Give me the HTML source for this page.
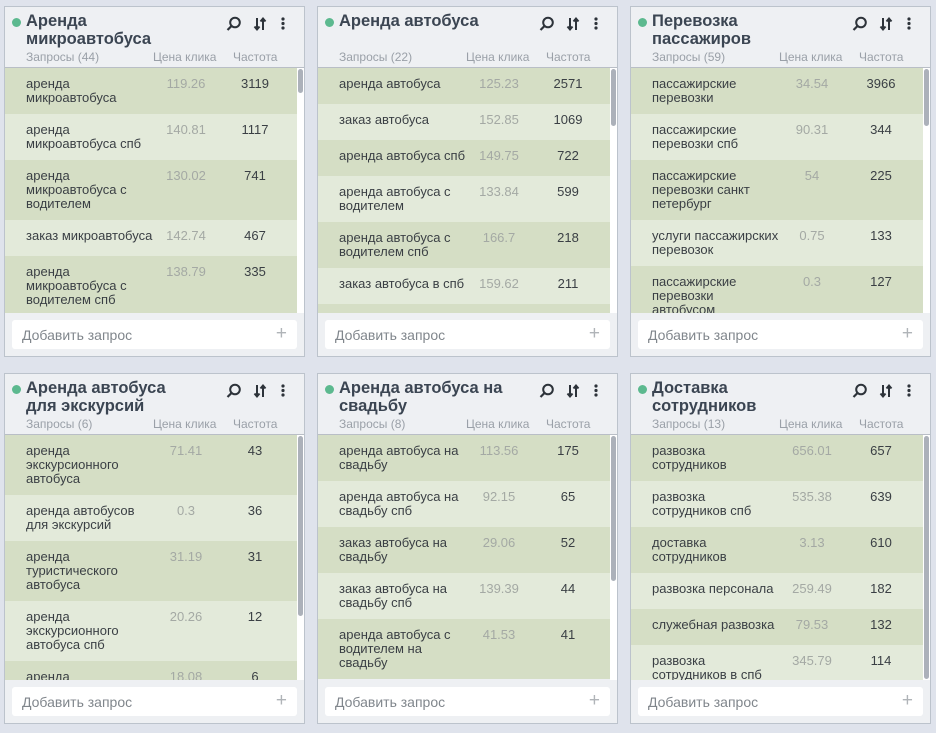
<!DOCTYPE html>
<html><head><meta charset="utf-8">
<style>
*{box-sizing:border-box;margin:0;padding:0}
body{width:936px;height:733px;background:#dfe3ec;font-family:"Liberation Sans","DejaVu Sans",sans-serif;position:relative;overflow:hidden}
.card{position:absolute;width:301px;height:351px;background:#eef0f3;border:1px solid #bcc3cc}
.hd{position:absolute;left:0;top:0;width:100%;height:61px;border-bottom:1px solid #b9bec6}
.dot{position:absolute;left:7px;top:11px;width:9px;height:9px;border-radius:50%;background:#5cb98f}
.ttl{position:absolute;left:21px;top:5px;font-size:16.5px;font-weight:bold;color:#3b4552;line-height:18px}
.ic{position:absolute;top:9px}
.sub{position:absolute;top:43px;font-size:12px;color:#9aa0a8}
.list{position:absolute;left:0;top:61px;width:292px;height:245px;overflow:hidden}
.track{position:absolute;right:0;top:61px;width:7px;height:245px;background:#fff}
.thumb{position:absolute;left:1px;width:5px;border-radius:3px;background:#acb1ba}
.row{position:relative;padding:9px 0 9px 21px;min-height:36px;font-size:13px;line-height:14px;color:#3a3f44}
.row:nth-child(odd){background:#d5dec5}
.row:nth-child(even){background:#e3eada}
.row .p{position:absolute;left:145px;width:72px;top:9px;text-align:center;color:#a4a9a4}
.row .f{position:absolute;left:220px;width:60px;top:9px;text-align:center}
.ft{position:absolute;left:7px;top:313px;width:285px;height:29px;background:#fff;border-radius:3px;font-size:14px;color:#80868c;padding:7px 0 0 10px}
.ft span{position:absolute;right:10px;top:3px;font-size:19px;color:#b0b4b8}
</style></head><body>

<div class="card" style="left:4px;top:6px">
 <div class="hd"><div class="dot"></div><div class="ttl">Аренда<br>микроавтобуса</div>
 <svg class="ic" style="left:221px" width="16" height="16" viewBox="0 0 16 16"><circle cx="9" cy="6.5" r="4.8" fill="none" stroke="#2d333a" stroke-width="2"/><line x1="5.5" y1="10" x2="1.5" y2="14" stroke="#2d333a" stroke-width="2.2"/></svg>
 <svg class="ic" style="left:248px" width="14" height="16" viewBox="0 0 14 16"><path d="M4 2v11M1.5 10.5L4 13.5l2.5-3M10 14V3M7.5 5.5L10 2.5l2.5 3" stroke="#2d333a" stroke-width="2" fill="none"/></svg>
 <svg class="ic" style="left:275px" width="6" height="16" viewBox="0 0 6 16"><circle cx="3" cy="3" r="1.6" fill="#2d333a"/><circle cx="3" cy="7.5" r="1.6" fill="#2d333a"/><circle cx="3" cy="12" r="1.6" fill="#2d333a"/></svg>
 <div class="sub" style="left:21px">Запросы (44)</div><div class="sub" style="left:148px">Цена клика</div><div class="sub" style="left:228px">Частота</div></div>
 <div class="list">
  <div class="row">аренда<br>микроавтобуса<span class="p">119.26</span><span class="f">3119</span></div>
  <div class="row">аренда<br>микроавтобуса спб<span class="p">140.81</span><span class="f">1117</span></div>
  <div class="row">аренда<br>микроавтобуса с<br>водителем<span class="p">130.02</span><span class="f">741</span></div>
  <div class="row">заказ микроавтобуса<span class="p">142.74</span><span class="f">467</span></div>
  <div class="row">аренда<br>микроавтобуса с<br>водителем спб<span class="p">138.79</span><span class="f">335</span></div>
 </div>
 <div class="track"><div class="thumb" style="top:1px;height:24px"></div></div>
 <div class="ft">Добавить запрос<span>+</span></div>
</div>

<div class="card" style="left:317px;top:6px">
 <div class="hd"><div class="dot"></div><div class="ttl">Аренда автобуса</div>
 <svg class="ic" style="left:221px" width="16" height="16" viewBox="0 0 16 16"><circle cx="9" cy="6.5" r="4.8" fill="none" stroke="#2d333a" stroke-width="2"/><line x1="5.5" y1="10" x2="1.5" y2="14" stroke="#2d333a" stroke-width="2.2"/></svg>
 <svg class="ic" style="left:248px" width="14" height="16" viewBox="0 0 14 16"><path d="M4 2v11M1.5 10.5L4 13.5l2.5-3M10 14V3M7.5 5.5L10 2.5l2.5 3" stroke="#2d333a" stroke-width="2" fill="none"/></svg>
 <svg class="ic" style="left:275px" width="6" height="16" viewBox="0 0 6 16"><circle cx="3" cy="3" r="1.6" fill="#2d333a"/><circle cx="3" cy="7.5" r="1.6" fill="#2d333a"/><circle cx="3" cy="12" r="1.6" fill="#2d333a"/></svg>
 <div class="sub" style="left:21px">Запросы (22)</div><div class="sub" style="left:148px">Цена клика</div><div class="sub" style="left:228px">Частота</div></div>
 <div class="list">
  <div class="row">аренда автобуса<span class="p">125.23</span><span class="f">2571</span></div>
  <div class="row">заказ автобуса<span class="p">152.85</span><span class="f">1069</span></div>
  <div class="row">аренда автобуса спб<span class="p">149.75</span><span class="f">722</span></div>
  <div class="row">аренда автобуса с<br>водителем<span class="p">133.84</span><span class="f">599</span></div>
  <div class="row">аренда автобуса с<br>водителем спб<span class="p">166.7</span><span class="f">218</span></div>
  <div class="row">заказ автобуса в спб<span class="p">159.62</span><span class="f">211</span></div>
  <div class="row">аренда<br>автобуса<span class="p"></span><span class="f"></span></div>
 </div>
 <div class="track"><div class="thumb" style="top:1px;height:57px"></div></div>
 <div class="ft">Добавить запрос<span>+</span></div>
</div>

<div class="card" style="left:630px;top:6px">
 <div class="hd"><div class="dot"></div><div class="ttl">Перевозка<br>пассажиров</div>
 <svg class="ic" style="left:221px" width="16" height="16" viewBox="0 0 16 16"><circle cx="9" cy="6.5" r="4.8" fill="none" stroke="#2d333a" stroke-width="2"/><line x1="5.5" y1="10" x2="1.5" y2="14" stroke="#2d333a" stroke-width="2.2"/></svg>
 <svg class="ic" style="left:248px" width="14" height="16" viewBox="0 0 14 16"><path d="M4 2v11M1.5 10.5L4 13.5l2.5-3M10 14V3M7.5 5.5L10 2.5l2.5 3" stroke="#2d333a" stroke-width="2" fill="none"/></svg>
 <svg class="ic" style="left:275px" width="6" height="16" viewBox="0 0 6 16"><circle cx="3" cy="3" r="1.6" fill="#2d333a"/><circle cx="3" cy="7.5" r="1.6" fill="#2d333a"/><circle cx="3" cy="12" r="1.6" fill="#2d333a"/></svg>
 <div class="sub" style="left:21px">Запросы (59)</div><div class="sub" style="left:148px">Цена клика</div><div class="sub" style="left:228px">Частота</div></div>
 <div class="list">
  <div class="row">пассажирские<br>перевозки<span class="p">34.54</span><span class="f">3966</span></div>
  <div class="row">пассажирские<br>перевозки спб<span class="p">90.31</span><span class="f">344</span></div>
  <div class="row">пассажирские<br>перевозки санкт<br>петербург<span class="p">54</span><span class="f">225</span></div>
  <div class="row">услуги пассажирских<br>перевозок<span class="p">0.75</span><span class="f">133</span></div>
  <div class="row">пассажирские<br>перевозки<br>автобусом<span class="p">0.3</span><span class="f">127</span></div>
 </div>
 <div class="track"><div class="thumb" style="top:1px;height:57px"></div></div>
 <div class="ft">Добавить запрос<span>+</span></div>
</div>

<div class="card" style="left:4px;top:373px">
 <div class="hd"><div class="dot"></div><div class="ttl">Аренда автобуса<br>для экскурсий</div>
 <svg class="ic" style="left:221px" width="16" height="16" viewBox="0 0 16 16"><circle cx="9" cy="6.5" r="4.8" fill="none" stroke="#2d333a" stroke-width="2"/><line x1="5.5" y1="10" x2="1.5" y2="14" stroke="#2d333a" stroke-width="2.2"/></svg>
 <svg class="ic" style="left:248px" width="14" height="16" viewBox="0 0 14 16"><path d="M4 2v11M1.5 10.5L4 13.5l2.5-3M10 14V3M7.5 5.5L10 2.5l2.5 3" stroke="#2d333a" stroke-width="2" fill="none"/></svg>
 <svg class="ic" style="left:275px" width="6" height="16" viewBox="0 0 6 16"><circle cx="3" cy="3" r="1.6" fill="#2d333a"/><circle cx="3" cy="7.5" r="1.6" fill="#2d333a"/><circle cx="3" cy="12" r="1.6" fill="#2d333a"/></svg>
 <div class="sub" style="left:21px">Запросы (6)</div><div class="sub" style="left:148px">Цена клика</div><div class="sub" style="left:228px">Частота</div></div>
 <div class="list">
  <div class="row">аренда<br>экскурсионного<br>автобуса<span class="p">71.41</span><span class="f">43</span></div>
  <div class="row">аренда автобусов<br>для экскурсий<span class="p">0.3</span><span class="f">36</span></div>
  <div class="row">аренда<br>туристического<br>автобуса<span class="p">31.19</span><span class="f">31</span></div>
  <div class="row">аренда<br>экскурсионного<br>автобуса спб<span class="p">20.26</span><span class="f">12</span></div>
  <div class="row">аренда<br>автобуса<span class="p">18.08</span><span class="f">6</span></div>
 </div>
 <div class="track"><div class="thumb" style="top:1px;height:180px"></div></div>
 <div class="ft">Добавить запрос<span>+</span></div>
</div>

<div class="card" style="left:317px;top:373px">
 <div class="hd"><div class="dot"></div><div class="ttl">Аренда автобуса на<br>свадьбу</div>
 <svg class="ic" style="left:221px" width="16" height="16" viewBox="0 0 16 16"><circle cx="9" cy="6.5" r="4.8" fill="none" stroke="#2d333a" stroke-width="2"/><line x1="5.5" y1="10" x2="1.5" y2="14" stroke="#2d333a" stroke-width="2.2"/></svg>
 <svg class="ic" style="left:248px" width="14" height="16" viewBox="0 0 14 16"><path d="M4 2v11M1.5 10.5L4 13.5l2.5-3M10 14V3M7.5 5.5L10 2.5l2.5 3" stroke="#2d333a" stroke-width="2" fill="none"/></svg>
 <svg class="ic" style="left:275px" width="6" height="16" viewBox="0 0 6 16"><circle cx="3" cy="3" r="1.6" fill="#2d333a"/><circle cx="3" cy="7.5" r="1.6" fill="#2d333a"/><circle cx="3" cy="12" r="1.6" fill="#2d333a"/></svg>
 <div class="sub" style="left:21px">Запросы (8)</div><div class="sub" style="left:148px">Цена клика</div><div class="sub" style="left:228px">Частота</div></div>
 <div class="list">
  <div class="row">аренда автобуса на<br>свадьбу<span class="p">113.56</span><span class="f">175</span></div>
  <div class="row">аренда автобуса на<br>свадьбу спб<span class="p">92.15</span><span class="f">65</span></div>
  <div class="row">заказ автобуса на<br>свадьбу<span class="p">29.06</span><span class="f">52</span></div>
  <div class="row">заказ автобуса на<br>свадьбу спб<span class="p">139.39</span><span class="f">44</span></div>
  <div class="row">аренда автобуса с<br>водителем на<br>свадьбу<span class="p">41.53</span><span class="f">41</span></div>
 </div>
 <div class="track"><div class="thumb" style="top:1px;height:145px"></div></div>
 <div class="ft">Добавить запрос<span>+</span></div>
</div>

<div class="card" style="left:630px;top:373px">
 <div class="hd"><div class="dot"></div><div class="ttl">Доставка<br>сотрудников</div>
 <svg class="ic" style="left:221px" width="16" height="16" viewBox="0 0 16 16"><circle cx="9" cy="6.5" r="4.8" fill="none" stroke="#2d333a" stroke-width="2"/><line x1="5.5" y1="10" x2="1.5" y2="14" stroke="#2d333a" stroke-width="2.2"/></svg>
 <svg class="ic" style="left:248px" width="14" height="16" viewBox="0 0 14 16"><path d="M4 2v11M1.5 10.5L4 13.5l2.5-3M10 14V3M7.5 5.5L10 2.5l2.5 3" stroke="#2d333a" stroke-width="2" fill="none"/></svg>
 <svg class="ic" style="left:275px" width="6" height="16" viewBox="0 0 6 16"><circle cx="3" cy="3" r="1.6" fill="#2d333a"/><circle cx="3" cy="7.5" r="1.6" fill="#2d333a"/><circle cx="3" cy="12" r="1.6" fill="#2d333a"/></svg>
 <div class="sub" style="left:21px">Запросы (13)</div><div class="sub" style="left:148px">Цена клика</div><div class="sub" style="left:228px">Частота</div></div>
 <div class="list">
  <div class="row">развозка<br>сотрудников<span class="p">656.01</span><span class="f">657</span></div>
  <div class="row">развозка<br>сотрудников спб<span class="p">535.38</span><span class="f">639</span></div>
  <div class="row">доставка<br>сотрудников<span class="p">3.13</span><span class="f">610</span></div>
  <div class="row">развозка персонала<span class="p">259.49</span><span class="f">182</span></div>
  <div class="row">служебная развозка<span class="p">79.53</span><span class="f">132</span></div>
  <div class="row">развозка<br>сотрудников в спб<span class="p">345.79</span><span class="f">114</span></div>
 </div>
 <div class="track"><div class="thumb" style="top:1px;height:243px"></div></div>
 <div class="ft">Добавить запрос<span>+</span></div>
</div>

</body></html>
